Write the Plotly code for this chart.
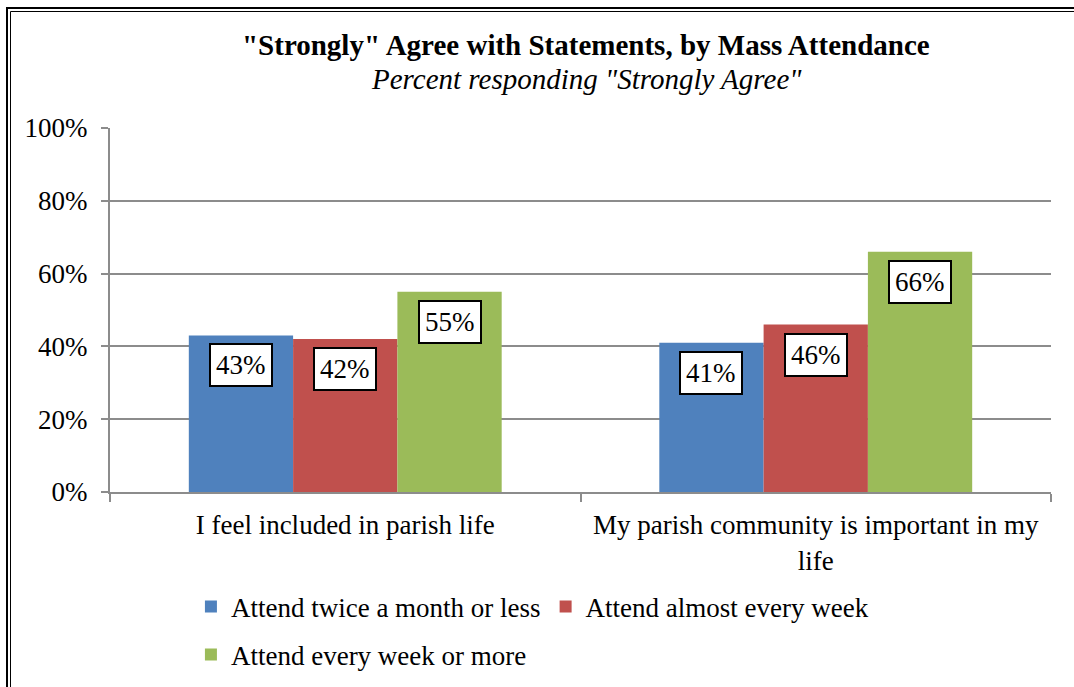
import plotly.graph_objects as go

categories = ["I feel included in parish life",
              "My parish community is important in my<br>life"]
series_names = ["Attend twice a month or less",
                "Attend almost every week",
                "Attend every week or more"]
twice_or_less = [43, 41]
almost_weekly = [42, 46]
weekly_or_more = [55, 66]
y_ticks = [0, 20, 40, 60, 80, 100]

_FONT = "Liberation Serif"
_COLORS = ["#4F81BD", "#C0504D", "#9BBB59"]
_GRID = "#8C8C8C"
_BARGAP = 0.335
_FS = 27

series = [twice_or_less, almost_weekly, weekly_or_more]
legend_ids = ["legend", "legend", "legend2"]

fig = go.Figure()
for name, vals, color, lg in zip(series_names, series, _COLORS, legend_ids):
    fig.add_trace(go.Bar(
        x=categories, y=vals, name=name, legend=lg,
        marker=dict(color=color, line=dict(width=0)),
    ))

# boxed value labels just inside the top of each bar
bar_w = (1 - _BARGAP) / len(series)
for i, vals in enumerate(series):
    offset = (i - (len(series) - 1) / 2) * bar_w
    for j, v in enumerate(vals):
        fig.add_annotation(
            x=j + offset, y=v, xref="x", yref="y",
            text=f"{v}%", showarrow=False, yanchor="top", yshift=-8,
            font=dict(family=_FONT, size=_FS, color="black"),
            bgcolor="white", bordercolor="black", borderwidth=2, borderpad=5,
        )

# title + subtitle
fig.add_annotation(x=0.506, y=(492 - 45) / 364, xref="paper", yref="paper",
                   xanchor="center", yanchor="middle",
                   text="<b>\"Strongly\" Agree with Statements, by Mass Attendance</b>",
                   showarrow=False, font=dict(family=_FONT, size=29, color="black"))
fig.add_annotation(x=0.506, y=(492 - 79) / 364, xref="paper", yref="paper",
                   xanchor="center", yanchor="middle",
                   text="<i>Percent responding \"Strongly Agree\"</i>",
                   showarrow=False, font=dict(family=_FONT, size=29, color="black"))

# chart-area double border
fig.add_shape(type="rect", xref="paper", yref="paper",
              x0=(7 - 110) / 941, x1=(1090 - 110) / 941,
              y0=(492 - 700) / 364, y1=(492 - 8) / 364,
              line=dict(color="black", width=2))
fig.add_shape(type="rect", xref="paper", yref="paper",
              x0=(10.5 - 110) / 941, x1=(1090 - 110) / 941,
              y0=(492 - 700) / 364, y1=(492 - 11.5) / 364,
              line=dict(color="black", width=1))

legend_style = dict(orientation="h", xanchor="left", yanchor="middle",
                    font=dict(family=_FONT, size=_FS, color="black"),
                    bgcolor="rgba(0,0,0,0)", itemwidth=30)

fig.update_layout(
    width=1074, height=687,
    margin=dict(l=110, r=23, t=128, b=195, autoexpand=False),
    paper_bgcolor="white", plot_bgcolor="white",
    barmode="group", bargap=_BARGAP, bargroupgap=0,
    font=dict(family=_FONT, size=_FS, color="black"),
    legend=dict(legend_style, x=0.086, y=(492 - 607) / 364),
    legend2=dict(legend_style, x=0.086, y=(492 - 655) / 364),
    showlegend=True,
)
fig.update_xaxes(
    showline=True, linecolor=_GRID, linewidth=2, automargin=False,
    ticks="outside", tickson="boundaries", ticklen=8, tickcolor=_GRID, tickwidth=2,
    showgrid=False, ticklabelstandoff=8,
    tickfont=dict(family=_FONT, size=_FS, color="black"),
)
fig.update_yaxes(
    range=[0, 100], tickvals=y_ticks, ticktext=[f"{t}%" for t in y_ticks],
    showline=True, linecolor=_GRID, linewidth=2, automargin=False,
    ticks="outside", ticklen=7, tickcolor=_GRID, tickwidth=2,
    showgrid=True, gridcolor=_GRID, gridwidth=2, zeroline=False,
    ticklabelstandoff=8,
    tickfont=dict(family=_FONT, size=_FS, color="black"),
)

# drop the default page margin so the figure sits at the window corner
fig.write_html("out.html", config={"displayModeBar": False},
               post_script="document.body.style.margin='0';")
